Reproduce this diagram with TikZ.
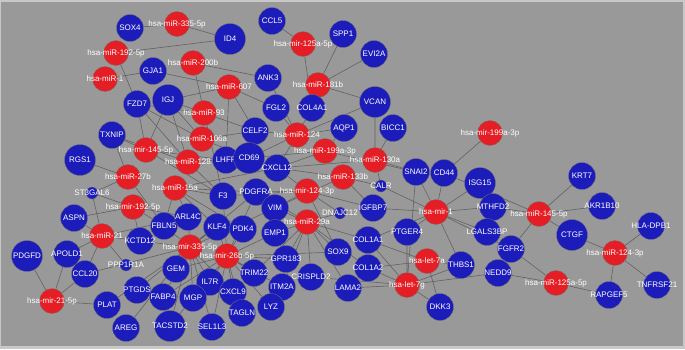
\documentclass[tikz,border=0pt]{standalone}
\usepackage{fontspec}
\setmainfont{Liberation Sans}
\pgfdeclarelayer{back}
\pgfsetlayers{back,main}
\definecolor{mirred}{RGB}{228,30,36}
\definecolor{geneblue}{RGB}{28,28,186}
\definecolor{panel}{RGB}{153,153,153}
\definecolor{rim}{RGB}{200,200,200}
\definecolor{wire}{RGB}{98,98,98}
\tikzset{
  lbl/.style={text=white,font=\fontsize{8}{9}\selectfont,inner sep=0pt,anchor=center},
  mirna/.style={circle,inner sep=0pt,minimum size=25pt,fill=mirred,draw=black!55,line width=0.3pt,label={[lbl]center:#1}},
  gene/.style={circle,inner sep=0pt,minimum size=27pt,fill=geneblue,draw=black!55,line width=0.3pt,label={[lbl]center:#1}},
  big/.style={minimum size=31pt},
  tiny/.style={minimum size=12pt},
  edgeline/.style={draw=wire,line width=0.6pt}
}
\begin{document}
\begin{tikzpicture}[x=1pt,y=-1pt]
  \useasboundingbox (0,0) rectangle (685,349);
  \begin{pgfonlayer}{back}
    \fill[rim] (0,0) rectangle (685,349);
    \fill[panel] (1,2) rectangle (683,346);
  \end{pgfonlayer}

  \node[gene=SOX4] (SOX4) at (130,28) {};
  \node[mirna=hsa-miR-335-5p] (m335a) at (177,24) {};
  \node[gene=ID4,big] (ID4) at (230,39) {};
  \node[mirna=hsa-miR-192-5p] (m192a) at (116,53) {};
  \node[mirna=hsa-miR-1] (m1a) at (105,79) {};
  \node[gene=GJA1] (GJA1) at (153,71) {};
  \node[mirna=hsa-miR-200b] (m200b) at (193,63) {};
  \node[gene=FZD7] (FZD7) at (137,104) {};
  \node[gene=IGJ,big] (IGJ) at (168,100) {};
  \node[gene=CCL5] (CCL5) at (272,21) {};
  \node[mirna=hsa-mir-125a-5p] (m125a) at (303,44) {};
  \node[gene=SPP1] (SPP1) at (343,34) {};
  \node[gene=EVI2A] (EVI2A) at (374,54) {};
  \node[gene=ANK3] (ANK3) at (268,78) {};
  \node[mirna=hsa-miR-607] (m607) at (229,87) {};
  \node[mirna=hsa-miR-181b] (m181b) at (318,85) {};
  \node[gene=FGL2] (FGL2) at (276,108) {};
  \node[gene=COL4A1] (COL4A1) at (312,108) {};
  \node[gene=VCAN,big] (VCAN) at (375,102) {};
  \node[mirna=hsa-miR-93] (m93) at (204,113) {};
  \node[gene=TXNIP] (TXNIP) at (112,135) {};
  \node[gene=RGS1,big] (RGS1) at (80,160) {};
  \node[mirna=hsa-miR-106a] (m106a) at (202,139) {};
  \node[gene=CELF2] (CELF2) at (255,131) {};
  \node[gene=AQP1] (AQP1) at (344,128) {};
  \node[gene=BICC1] (BICC1) at (393,128) {};
  \node[mirna=hsa-miR-124] (m124) at (297,135) {};
  \node[mirna=hsa-mir-145-5p] (m145a) at (146,150) {};
  \node[mirna=hsa-miR-128] (m128) at (188,162) {};
  \node[gene=LHFP] (LHFP) at (226,160) {};
  \node[gene=CD69,big] (CD69) at (249,158) {};
  \node[mirna=hsa-miR-199a-3p] (m199a) at (325,151) {};
  \node[mirna=hsa-miR-130a] (m130a) at (375,160) {};
  \node[gene=CXCL12] (CXCL12) at (277,168) {};
  \node[mirna=hsa-miR-133b] (m133b) at (343,177) {};
  \node[gene=CALR,tiny] (CALR) at (381,186) {};
  \node[gene=SNAI2] (SNAI2) at (416,172) {};
  \node[mirna=hsa-miR-27b] (m27b) at (128,177) {};
  \node[mirna=hsa-miR-15a] (m15a) at (175,188) {};
  \node[gene=ST3GAL6,tiny] (ST3GAL6) at (92,193) {};
  \node[gene=F3] (F3) at (223,196) {};
  \node[gene=PDGFRA] (PDGFRA) at (256,192) {};
  \node[mirna=hsa-mir-124-3p] (m124a) at (307,191) {};
  \node[gene=VIM] (VIM) at (275,208) {};
  \node[gene=DNAJC12,tiny] (DNAJC12) at (340,213) {};
  \node[gene=IGFBP7] (IGFBP7) at (373,208) {};
  \node[mirna=hsa-mir-192-5p] (m192b) at (133,207) {};
  \node[gene=ASPN] (ASPN) at (74,218) {};
  \node[gene=FBLN5] (FBLN5) at (164,226) {};
  \node[gene=ARL4C] (ARL4C) at (188,217) {};
  \node[gene=KLF4] (KLF4) at (217,227) {};
  \node[gene=PDK4] (PDK4) at (243,229) {};
  \node[gene=EMP1] (EMP1) at (275,233) {};
  \node[mirna=hsa-miR-29a] (m29a) at (307,222) {};
  \node[mirna=hsa-miR-21] (m21) at (102,236) {};
  \node[gene=KCTD12] (KCTD12) at (140,241) {};
  \node[mirna=hsa-mir-335-5p] (m335b) at (190,247) {};
  \node[gene=PDGFD,big] (PDGFD) at (27,256) {};
  \node[gene=APOLD1] (APOLD1) at (67,254) {};
  \node[gene=PPP1R1A,tiny] (PPP1R1A) at (126,265) {};
  \node[gene=CCL20] (CCL20) at (85,274) {};
  \node[gene=GEM] (GEM) at (176,269) {};
  \node[mirna=hsa-mir-26b-5p] (m26b) at (227,256) {};
  \node[gene=GPR183] (GPR183) at (286,259) {};
  \node[gene=SOX9] (SOX9) at (338,252) {};
  \node[gene=COL1A1] (COL1A1) at (368,240) {};
  \node[gene=COL1A2] (COL1A2) at (368,268) {};
  \node[gene=IL7R] (IL7R) at (210,282) {};
  \node[gene=TRIM22] (TRIM22) at (254,273) {};
  \node[gene=CRISPLD2] (CRISPLD2) at (311,277) {};
  \node[gene=ITM2A] (ITM2A) at (282,287) {};
  \node[gene=LAMA2] (LAMA2) at (348,288) {};
  \node[gene=CXCL9] (CXCL9) at (233,292) {};
  \node[mirna=hsa-mir-21-5p] (m21b) at (52,301) {};
  \node[gene=PLAT] (PLAT) at (107,305) {};
  \node[gene=PTGDS] (PTGDS) at (137,290) {};
  \node[gene=FABP4] (FABP4) at (163,297) {};
  \node[gene=MGP] (MGP) at (193,298) {};
  \node[gene=LYZ] (LYZ) at (271,307) {};
  \node[gene=TAGLN] (TAGLN) at (242,313) {};
  \node[gene=AREG] (AREG) at (126,328) {};
  \node[gene=TACSTD2,big] (TACSTD2) at (170,326) {};
  \node[gene=SEL1L3] (SEL1L3) at (212,327) {};
  \node[mirna=hsa-mir-199a-3p] (m199b) at (490,133) {};
  \node[gene=CD44] (CD44) at (444,173) {};
  \node[gene=ISG15,big] (ISG15) at (480,183) {};
  \node[mirna=hsa-mir-1] (m1b) at (436,212) {};
  \node[gene=MTHFD2] (MTHFD2) at (493,207) {};
  \node[gene=PTGER4] (PTGER4) at (407,232) {};
  \node[gene=LGALS3BP] (LGALS3BP) at (487,232) {};
  \node[mirna=hsa-miR-145-5p] (m145b) at (539,214) {};
  \node[gene=KRT7] (KRT7) at (582,176) {};
  \node[gene=AKR1B10] (AKR1B10) at (602,206) {};
  \node[gene=FGFR2] (FGFR2) at (511,249) {};
  \node[mirna=hsa-let-7a] (let7a) at (427,261) {};
  \node[gene=THBS1] (THBS1) at (461,265) {};
  \node[gene=NEDD9] (NEDD9) at (498,273) {};
  \node[mirna=hsa-let-7g] (let7g) at (407,285) {};
  \node[gene=DKK3] (DKK3) at (440,307) {};
  \node[gene=CTGF,big] (CTGF) at (572,235) {};
  \node[gene=HLA-DPB1] (HLADPB1) at (651,226) {};
  \node[mirna=hsa-miR-124-3p] (m124b) at (615,253) {};
  \node[mirna=hsa-miR-125a-5p] (m125b) at (556,283) {};
  \node[gene=RAPGEF5] (RAPGEF5) at (609,295) {};
  \node[gene=TNFRSF21] (TNFRSF21) at (657,285) {};

  \begin{pgfonlayer}{back}
    \draw[edgeline] (m335a) -- (SOX4) (m335a) -- (ID4);
    \draw[edgeline] (m192a) -- (ID4) (m192a) -- (FZD7);
    \draw[edgeline] (m1a) -- (GJA1);
    \draw[edgeline] (m200b) -- (ANK3) (m200b) -- (F3);
    \draw[edgeline] (m125a) -- (CCL5) (m125a) -- (COL4A1);
    \draw[edgeline] (m181b) -- (SPP1) (m181b) -- (EVI2A) (m181b) -- (VCAN) (m181b) -- (COL4A1);
    \draw[edgeline] (m607) -- (GJA1) (m607) -- (IGJ) (m607) -- (FGL2) (m607) -- (LHFP) (m607) -- (CELF2);
    \draw[edgeline] (m93) -- (IGJ) (m93) -- (FZD7) (m93) -- (CELF2);
    \draw[edgeline] (m106a) -- (IGJ) (m106a) -- (FZD7) (m106a) -- (CELF2) (m106a) -- (CD69);
    \draw[edgeline] (m145a) -- (TXNIP) (m145a) -- (FZD7) (m145a) -- (IGJ) (m145a) -- (LHFP) (m145a) -- (F3);
    \draw[edgeline] (m128) -- (IGJ) (m128) -- (FZD7) (m128) -- (LHFP) (m128) -- (CD69) (m128) -- (F3) (m128) -- (TXNIP);
    \draw[edgeline] (m27b) -- (RGS1) (m27b) -- (FBLN5) (m27b) -- (ST3GAL6) (m27b) -- (TXNIP);
    \draw[edgeline] (m15a) -- (F3) (m15a) -- (ARL4C) (m15a) -- (FBLN5) (m15a) -- (KLF4) (m15a) -- (PDGFRA) (m15a) -- (CXCL12) (m15a) -- (PDK4);
    \draw[edgeline] (m124) -- (ANK3) (m124) -- (FGL2) (m124) -- (COL4A1) (m124) -- (VCAN) (m124) -- (CELF2) (m124) -- (CD69) (m124) -- (CXCL12) (m124) -- (AQP1);
    \draw[edgeline] (m199a) -- (CXCL12) (m199a) -- (AQP1) (m199a) -- (SNAI2) (m199a) -- (CD69);
    \draw[edgeline] (m130a) -- (VCAN) (m130a) -- (BICC1) (m130a) -- (SNAI2) (m130a) -- (CALR) (m130a) -- (CXCL12);
    \draw[edgeline] (m133b) -- (CXCL12) (m133b) -- (CALR) (m133b) -- (IGFBP7) (m133b) -- (VIM);
    \draw[edgeline] (m124a) -- (PDGFRA) (m124a) -- (VIM) (m124a) -- (CXCL12) (m124a) -- (F3) (m124a) -- (IGFBP7) (m124a) -- (SOX9) (m124a) -- (DNAJC12);
    \draw[edgeline] (m29a) -- (VIM) (m29a) -- (EMP1) (m29a) -- (PDGFRA) (m29a) -- (GPR183) (m29a) -- (SOX9) (m29a) -- (COL1A1) (m29a) -- (COL1A2) (m29a) -- (CRISPLD2) (m29a) -- (LAMA2) (m29a) -- (DNAJC12) (m29a) -- (ITM2A) (m29a) -- (TRIM22);
    \draw[edgeline] (m192b) -- (ST3GAL6) (m192b) -- (FBLN5) (m192b) -- (KCTD12) (m192b) -- (ARL4C) (m192b) -- (ASPN);
    \draw[edgeline] (m21) -- (ST3GAL6) (m21) -- (APOLD1) (m21) -- (CCL20) (m21) -- (KCTD12) (m21) -- (PPP1R1A) (m21) -- (ARL4C) (m21) -- (ASPN);
    \draw[edgeline] (m21b) -- (PDGFD) (m21b) -- (APOLD1) (m21b) -- (CCL20) (m21b) -- (PLAT);
    \draw[edgeline] (m335b) -- (FBLN5) (m335b) -- (ARL4C) (m335b) -- (KLF4) (m335b) -- (GEM) (m335b) -- (PTGDS) (m335b) -- (FABP4) (m335b) -- (MGP) (m335b) -- (IL7R) (m335b) -- (KCTD12) (m335b) -- (PLAT) (m335b) -- (AREG) (m335b) -- (TACSTD2) (m335b) -- (CCL20) (m335b) -- (CXCL9) (m335b) -- (SEL1L3) (m335b) -- (PDGFRA) (m335b) -- (VIM);
    \draw[edgeline] (m26b) -- (GEM) (m26b) -- (IL7R) (m26b) -- (CXCL9) (m26b) -- (MGP) (m26b) -- (SEL1L3) (m26b) -- (TAGLN) (m26b) -- (TRIM22) (m26b) -- (LYZ) (m26b) -- (ITM2A) (m26b) -- (GPR183) (m26b) -- (EMP1) (m26b) -- (PDK4) (m26b) -- (KLF4) (m26b) -- (FABP4) (m26b) -- (TACSTD2) (m26b) -- (SOX9) (m26b) -- (F3) (m26b) -- (PDGFRA);
    \draw[edgeline] (m199b) -- (CD44);
    \draw[edgeline] (m1b) -- (CD44) (m1b) -- (SNAI2) (m1b) -- (ISG15) (m1b) -- (MTHFD2) (m1b) -- (CALR) (m1b) -- (IGFBP7) (m1b) -- (PTGER4) (m1b) -- (COL1A1) (m1b) -- (THBS1) (m1b) -- (LGALS3BP) (m1b) -- (FGFR2);
    \draw[edgeline] (m145b) -- (CD44) (m145b) -- (MTHFD2) (m145b) -- (KRT7) (m145b) -- (AKR1B10) (m145b) -- (CTGF) (m145b) -- (FGFR2);
    \draw[edgeline] (let7a) -- (THBS1) (let7a) -- (DKK3) (let7a) -- (COL1A2) (let7a) -- (COL1A1);
    \draw[edgeline] (let7g) -- (PTGER4) (let7g) -- (THBS1) (let7g) -- (DKK3) (let7g) -- (COL1A1) (let7g) -- (COL1A2) (let7g) -- (LAMA2) (let7g) -- (NEDD9) (let7g) -- (CRISPLD2) (let7g) -- (SNAI2);
    \draw[edgeline] (m124b) -- (CTGF) (m124b) -- (HLADPB1) (m124b) -- (TNFRSF21) (m124b) -- (RAPGEF5);
    \draw[edgeline] (m125b) -- (FGFR2) (m125b) -- (NEDD9) (m125b) -- (RAPGEF5);
  \end{pgfonlayer}
\end{tikzpicture}
\end{document}
